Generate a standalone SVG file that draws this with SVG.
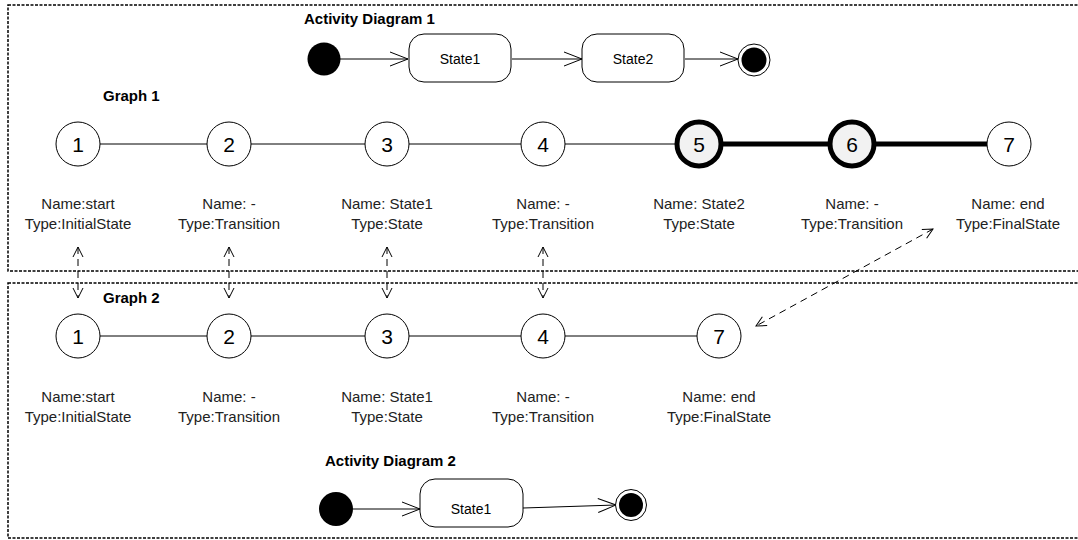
<svg xmlns="http://www.w3.org/2000/svg" width="1078" height="540" viewBox="0 0 1078 540">
<defs>
<marker id="open" viewBox="0 0 12 12" refX="11" refY="6" markerWidth="12" markerHeight="12" markerUnits="userSpaceOnUse" orient="auto-start-reverse">
<path d="M1,1 L11,6 L1,11" fill="none" stroke="#000" stroke-width="1"/>
</marker>
<marker id="openL" viewBox="0 0 20 16" refX="19" refY="8" markerWidth="20" markerHeight="16" markerUnits="userSpaceOnUse" orient="auto">
<path d="M1,1 L19,8 L1,15" fill="none" stroke="#000" stroke-width="1"/>
</marker>
<style>
.frame{fill:none;stroke:#000;stroke-width:1.5;stroke-dasharray:3 1.5}
.node circle{fill:#fff;stroke:#000;stroke-width:1}
.node.hl circle{fill:#f2f2f2;stroke-width:5}
.num{font-family:"Liberation Sans",Arial,sans-serif;font-size:21px;text-anchor:middle}
.lbl{font-family:"Liberation Sans",Arial,sans-serif;font-size:15px;text-anchor:middle;fill:#222}
.title{font-family:"Liberation Sans",Arial,sans-serif;font-size:15px;font-weight:bold}
.st{font-family:"Liberation Sans",Arial,sans-serif;font-size:14px;text-anchor:middle}
.edge{stroke:#000;stroke-width:1;fill:none}
.thick{stroke:#000;stroke-width:5;fill:none}
.dash{stroke:#000;stroke-width:1;fill:none;stroke-dasharray:7 5}
.box{fill:#fff;stroke:#000;stroke-width:1}
</style>
</defs>
<rect width="1078" height="540" fill="#fff"/>
<rect class="frame" x="8" y="5" width="1080" height="266"/>
<rect class="frame" x="8" y="283" width="1080" height="255"/>

<text class="title" x="304" y="24">Activity Diagram 1</text>
<text class="title" x="103" y="101">Graph 1</text>
<text class="title" x="103" y="303">Graph 2</text>
<text class="title" x="325" y="466">Activity Diagram 2</text>

<g id="connectors">
<line class="edge" x1="340" y1="59" x2="408" y2="59" marker-end="url(#openL)"/>
<line class="edge" x1="512" y1="59" x2="582" y2="59" marker-end="url(#openL)"/>
<line class="edge" x1="685" y1="59" x2="738" y2="59" marker-end="url(#openL)"/>
<line class="edge" x1="353" y1="509" x2="420" y2="509" marker-end="url(#openL)"/>
<line class="edge" x1="523" y1="508" x2="616" y2="505" marker-end="url(#openL)"/>
<line class="edge" x1="100" y1="144" x2="207" y2="144"/>
<line class="edge" x1="251" y1="144" x2="365" y2="144"/>
<line class="edge" x1="409" y1="144" x2="521" y2="144"/>
<line class="edge" x1="565" y1="144" x2="677" y2="144"/>
<line class="thick" x1="721" y1="144" x2="830" y2="144"/>
<line class="thick" x1="874" y1="144" x2="987" y2="144"/>
<line class="edge" x1="100" y1="336" x2="207" y2="336"/>
<line class="edge" x1="251" y1="336" x2="365" y2="336"/>
<line class="edge" x1="409" y1="336" x2="521" y2="336"/>
<line class="edge" x1="565" y1="336" x2="697" y2="336"/>
<line class="dash" x1="78" y1="247" x2="78" y2="298" marker-start="url(#open)" marker-end="url(#open)"/>
<line class="dash" x1="229" y1="247" x2="229" y2="298" marker-start="url(#open)" marker-end="url(#open)"/>
<line class="dash" x1="387" y1="247" x2="387" y2="298" marker-start="url(#open)" marker-end="url(#open)"/>
<line class="dash" x1="543" y1="247" x2="543" y2="298" marker-start="url(#open)" marker-end="url(#open)"/>
<line class="dash" x1="933" y1="229" x2="756" y2="326" marker-start="url(#open)" marker-end="url(#open)"/>
</g>

<g id="ad1-initial"><circle cx="324" cy="59" r="16.5" fill="#000"/></g>
<g id="ad1-state1"><rect class="box" x="409" y="34" width="102" height="48" rx="15"/><text class="st" x="460" y="64">State1</text></g>
<g id="ad1-state2"><rect class="box" x="582" y="34" width="102" height="48" rx="15"/><text class="st" x="633" y="64">State2</text></g>
<g id="ad1-final"><circle cx="754" cy="60" r="16" fill="#fff" stroke="#000" stroke-width="1"/><circle cx="754" cy="60" r="12.5" fill="#000"/></g>

<g id="g1-n1" class="node"><circle cx="78" cy="144" r="22"/><text class="num" x="78" y="151.5">1</text></g>
<g id="g1-n2" class="node"><circle cx="229" cy="144" r="22"/><text class="num" x="229" y="151.5">2</text></g>
<g id="g1-n3" class="node"><circle cx="387" cy="144" r="22"/><text class="num" x="387" y="151.5">3</text></g>
<g id="g1-n4" class="node"><circle cx="543" cy="144" r="22"/><text class="num" x="543" y="151.5">4</text></g>
<g id="g1-n5" class="node hl"><circle cx="699" cy="144" r="22"/><text class="num" x="699" y="151.5">5</text></g>
<g id="g1-n6" class="node hl"><circle cx="852" cy="144" r="22"/><text class="num" x="852" y="151.5">6</text></g>
<g id="g1-n7" class="node"><circle cx="1009" cy="144" r="22"/><text class="num" x="1009" y="151.5">7</text></g>

<g id="g1-l1"><text class="lbl" x="78" y="209">Name:start</text><text class="lbl" x="78" y="229">Type:InitialState</text></g>
<g id="g1-l2"><text class="lbl" x="229" y="209">Name: -</text><text class="lbl" x="229" y="229">Type:Transition</text></g>
<g id="g1-l3"><text class="lbl" x="387" y="209">Name: State1</text><text class="lbl" x="387" y="229">Type:State</text></g>
<g id="g1-l4"><text class="lbl" x="543" y="209">Name: -</text><text class="lbl" x="543" y="229">Type:Transition</text></g>
<g id="g1-l5"><text class="lbl" x="699" y="209">Name: State2</text><text class="lbl" x="699" y="229">Type:State</text></g>
<g id="g1-l6"><text class="lbl" x="852" y="209">Name: -</text><text class="lbl" x="852" y="229">Type:Transition</text></g>
<g id="g1-l7"><text class="lbl" x="1008" y="209">Name: end</text><text class="lbl" x="1008" y="229">Type:FinalState</text></g>

<g id="g2-n1" class="node"><circle cx="78" cy="336" r="22"/><text class="num" x="78" y="343.5">1</text></g>
<g id="g2-n2" class="node"><circle cx="229" cy="336" r="22"/><text class="num" x="229" y="343.5">2</text></g>
<g id="g2-n3" class="node"><circle cx="387" cy="336" r="22"/><text class="num" x="387" y="343.5">3</text></g>
<g id="g2-n4" class="node"><circle cx="543" cy="336" r="22"/><text class="num" x="543" y="343.5">4</text></g>
<g id="g2-n7" class="node"><circle cx="719" cy="336" r="22"/><text class="num" x="719" y="343.5">7</text></g>

<g id="g2-l1"><text class="lbl" x="78" y="402">Name:start</text><text class="lbl" x="78" y="422">Type:InitialState</text></g>
<g id="g2-l2"><text class="lbl" x="229" y="402">Name: -</text><text class="lbl" x="229" y="422">Type:Transition</text></g>
<g id="g2-l3"><text class="lbl" x="387" y="402">Name: State1</text><text class="lbl" x="387" y="422">Type:State</text></g>
<g id="g2-l4"><text class="lbl" x="543" y="402">Name: -</text><text class="lbl" x="543" y="422">Type:Transition</text></g>
<g id="g2-l7"><text class="lbl" x="719" y="402">Name: end</text><text class="lbl" x="719" y="422">Type:FinalState</text></g>

<g id="ad2-initial"><circle cx="336" cy="509" r="17" fill="#000"/></g>
<g id="ad2-state1"><rect class="box" x="420" y="479" width="103" height="48" rx="15"/><text class="st" x="471" y="514">State1</text></g>
<g id="ad2-final"><circle cx="631" cy="505" r="15.5" fill="#fff" stroke="#000" stroke-width="1"/><circle cx="631" cy="505" r="12" fill="#000"/></g>
</svg>
